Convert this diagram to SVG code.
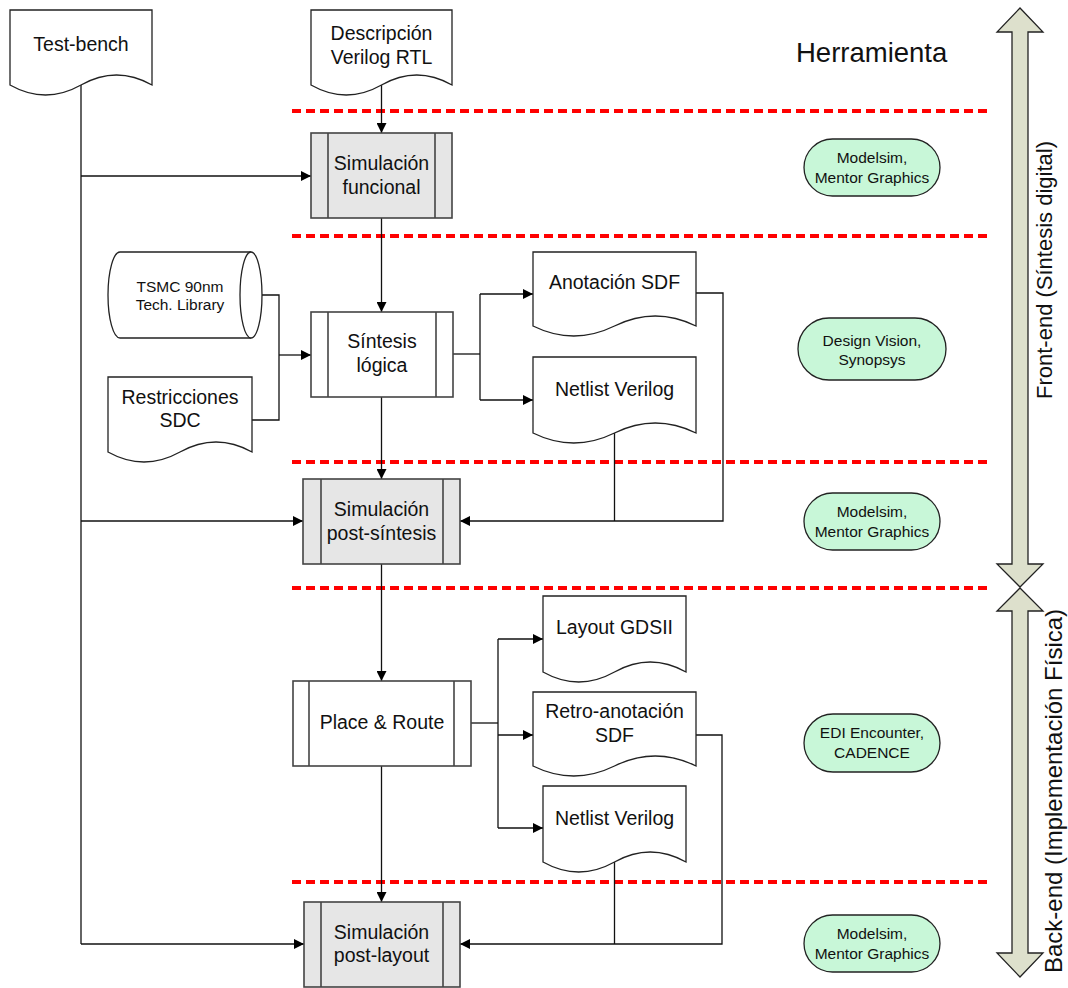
<svg xmlns="http://www.w3.org/2000/svg" width="1068" height="988" viewBox="0 0 1068 988">
  <style>
    .doc { fill: #ffffff; stroke: #222; stroke-width: 1.3; }
    .proc { fill: #ffffff; stroke: #444; stroke-width: 1.6; }
    .sim { fill: #e6e6e6; stroke: #444; stroke-width: 1.6; }
    .bar { fill: none; stroke: #444; stroke-width: 1.6; }
    .tool { fill: #c8f7d8; stroke: #222; stroke-width: 1.3; }
    .wire { fill: none; stroke: #111; stroke-width: 1.3; }
    .stage { fill: none; stroke: #ff0000; stroke-width: 4; stroke-dasharray: 9 5; }
    .band { fill: #dde0cc; stroke: #222; stroke-width: 1.3; }
    text { font-family: "Liberation Sans", Arial, sans-serif; fill: #111; text-anchor: middle; }
    .t { font-size: 19.5px; }
    .s { font-size: 15.5px; }
    .h { font-size: 27.5px; text-anchor: start; }
    .v { font-size: 22px; }
    .vb { font-size: 24px; }
  </style>
  <defs>
    <marker id="arrow" viewBox="0 0 10 10" refX="10" refY="5" markerWidth="10" markerHeight="10" markerUnits="userSpaceOnUse" orient="auto">
      <path d="M0,0 L10,5 L0,10 Z" fill="#000"/>
    </marker>
  </defs>

  <rect width="1068" height="988" fill="#ffffff"/>

  <!-- stage separators -->
  <g id="stages">
    <line class="stage" x1="292" y1="111" x2="988" y2="111"/>
    <line class="stage" x1="292" y1="236" x2="988" y2="236"/>
    <line class="stage" x1="292" y1="462" x2="988" y2="462"/>
    <line class="stage" x1="292" y1="588" x2="988" y2="588"/>
    <line class="stage" x1="292" y1="882" x2="988" y2="882"/>
  </g>

  <!-- connectors -->
  <g id="connectors">
    <!-- test-bench feed -->
    <path class="wire" d="M81,85 V944"/>
    <path class="wire" d="M81,176 H311" marker-end="url(#arrow)"/>
    <path class="wire" d="M81,521 H303" marker-end="url(#arrow)"/>
    <path class="wire" d="M81,944 H304" marker-end="url(#arrow)"/>
    <!-- main flow -->
    <path class="wire" d="M381.5,85 V133" marker-end="url(#arrow)"/>
    <path class="wire" d="M381.5,218 V312" marker-end="url(#arrow)"/>
    <path class="wire" d="M381.5,397 V479" marker-end="url(#arrow)"/>
    <path class="wire" d="M381.5,564 V681" marker-end="url(#arrow)"/>
    <path class="wire" d="M381.5,766 V902" marker-end="url(#arrow)"/>
    <!-- library and constraints into synthesis -->
    <path class="wire" d="M262,295 H279 V420 H252"/>
    <path class="wire" d="M279,355 H311" marker-end="url(#arrow)"/>
    <!-- synthesis outputs -->
    <path class="wire" d="M453,354 H480"/>
    <path class="wire" d="M480,294 V400"/>
    <path class="wire" d="M480,294 H533" marker-end="url(#arrow)"/>
    <path class="wire" d="M480,400 H533" marker-end="url(#arrow)"/>
    <!-- back to post-synthesis simulation -->
    <path class="wire" d="M696,293 H723 V521 H460" marker-end="url(#arrow)"/>
    <path class="wire" d="M614.5,433 V521"/>
    <!-- place & route outputs -->
    <path class="wire" d="M471,723 H498"/>
    <path class="wire" d="M498,639 V828"/>
    <path class="wire" d="M498,639 H543" marker-end="url(#arrow)"/>
    <path class="wire" d="M498,735 H533" marker-end="url(#arrow)"/>
    <path class="wire" d="M498,828 H543" marker-end="url(#arrow)"/>
    <!-- back to post-layout simulation -->
    <path class="wire" d="M696,735 H722 V944 H460" marker-end="url(#arrow)"/>
    <path class="wire" d="M614.5,862 V944"/>
  </g>

  <!-- inputs -->
  <g id="testbench">
    <path class="doc" d="M10,10 H152 V85 Q116.5,65 81,85 T10,85 Z"/>
    <text class="t" x="81" y="51">Test-bench</text>
  </g>
  <g id="rtl">
    <path class="doc" d="M311,10 H452 V85 Q416.75,65 381.5,85 T311,85 Z"/>
    <text class="t" x="381.5" y="40">Descripción</text>
    <text class="t" x="381.5" y="64">Verilog RTL</text>
  </g>
  <g id="techlib">
    <path class="doc" d="M120,252 H251 A11,43 0 0 1 251,338 H120 A12,43 0 0 1 120,252 Z"/>
    <path class="doc" d="M251,252 A11,43 0 0 0 251,338" fill="none"/>
    <text class="s" x="180" y="292">TSMC 90nm</text>
    <text class="s" x="180" y="310">Tech. Library</text>
  </g>
  <g id="sdc">
    <path class="doc" d="M108,377 H252 V452 Q216,432 180,452 T108,452 Z"/>
    <text class="t" x="180" y="404">Restricciones</text>
    <text class="t" x="180" y="427">SDC</text>
  </g>

  <!-- functional simulation -->
  <g id="sim-funcional">
    <rect class="sim" x="311" y="133" width="141" height="85"/>
    <line class="bar" x1="328" y1="133" x2="328" y2="218"/>
    <line class="bar" x1="435" y1="133" x2="435" y2="218"/>
    <text class="t" x="381.5" y="170">Simulación</text>
    <text class="t" x="381.5" y="194">funcional</text>
  </g>

  <!-- logic synthesis -->
  <g id="sintesis">
    <rect class="proc" x="311" y="312" width="142" height="85"/>
    <line class="bar" x1="328" y1="312" x2="328" y2="397"/>
    <line class="bar" x1="436" y1="312" x2="436" y2="397"/>
    <text class="t" x="382" y="348">Síntesis</text>
    <text class="t" x="382" y="372">lógica</text>
  </g>
  <g id="anotacion-sdf">
    <path class="doc" d="M533,252 H696 V326 Q655.25,306 614.5,326 T533,326 Z"/>
    <text class="t" x="614.5" y="289">Anotación SDF</text>
  </g>
  <g id="netlist-sintesis">
    <path class="doc" d="M533,357 H696 V433 Q655.25,413 614.5,433 T533,433 Z"/>
    <text class="t" x="614.5" y="396">Netlist Verilog</text>
  </g>

  <!-- post-synthesis simulation -->
  <g id="sim-post-sintesis">
    <rect class="sim" x="303" y="479" width="157" height="85"/>
    <line class="bar" x1="321" y1="479" x2="321" y2="564"/>
    <line class="bar" x1="443" y1="479" x2="443" y2="564"/>
    <text class="t" x="381.5" y="516">Simulación</text>
    <text class="t" x="381.5" y="540">post-síntesis</text>
  </g>

  <!-- place & route -->
  <g id="place-route">
    <rect class="proc" x="293" y="681" width="178" height="85"/>
    <line class="bar" x1="309" y1="681" x2="309" y2="766"/>
    <line class="bar" x1="454" y1="681" x2="454" y2="766"/>
    <text class="t" x="382" y="729">Place &amp; Route</text>
  </g>
  <g id="layout-gdsii">
    <path class="doc" d="M543,596 H686 V672 Q650.25,652 614.5,672 T543,672 Z"/>
    <text class="t" x="614.5" y="634">Layout GDSII</text>
  </g>
  <g id="retro-sdf">
    <path class="doc" d="M533,692 H696 V766 Q655.25,746 614.5,766 T533,766 Z"/>
    <text class="t" x="614.5" y="718">Retro-anotación</text>
    <text class="t" x="614.5" y="742">SDF</text>
  </g>
  <g id="netlist-layout">
    <path class="doc" d="M543,786 H686 V862 Q650.25,842 614.5,862 T543,862 Z"/>
    <text class="t" x="614.5" y="825">Netlist Verilog</text>
  </g>

  <!-- post-layout simulation -->
  <g id="sim-post-layout">
    <rect class="sim" x="304" y="902" width="156" height="85"/>
    <line class="bar" x1="321" y1="902" x2="321" y2="987"/>
    <line class="bar" x1="443" y1="902" x2="443" y2="987"/>
    <text class="t" x="381.5" y="939">Simulación</text>
    <text class="t" x="381.5" y="962">post-layout</text>
  </g>

  <!-- tools column -->
  <text class="h" x="796" y="62">Herramienta</text>
  <g id="tool-modelsim-1">
    <rect class="tool" x="804" y="139" width="136" height="57" rx="28.5"/>
    <text class="s" x="872" y="163">Modelsim,</text>
    <text class="s" x="872" y="183">Mentor Graphics</text>
  </g>
  <g id="tool-design-vision">
    <rect class="tool" x="798" y="318" width="148" height="62" rx="31"/>
    <text class="s" x="872" y="346">Design Vision,</text>
    <text class="s" x="872" y="365">Synopsys</text>
  </g>
  <g id="tool-modelsim-2">
    <rect class="tool" x="804" y="493" width="136" height="57" rx="28.5"/>
    <text class="s" x="872" y="517">Modelsim,</text>
    <text class="s" x="872" y="537">Mentor Graphics</text>
  </g>
  <g id="tool-edi">
    <rect class="tool" x="804" y="714" width="136" height="58" rx="29"/>
    <text class="s" x="872" y="738">EDI Encounter,</text>
    <text class="s" x="872" y="758">CADENCE</text>
  </g>
  <g id="tool-modelsim-3">
    <rect class="tool" x="804" y="915" width="136" height="57" rx="28.5"/>
    <text class="s" x="872" y="939">Modelsim,</text>
    <text class="s" x="872" y="959">Mentor Graphics</text>
  </g>

  <!-- flow phase bands -->
  <g id="front-end">
    <polygon class="band" points="1020,8 1043,32 1028,32 1028,564 1043,564 1020,587 997,564 1012,564 1012,32 997,32"/>
    <text class="v" transform="translate(1052,270) rotate(-90)">Front-end (Síntesis digital)</text>
  </g>
  <g id="back-end">
    <polygon class="band" points="1020,588 1043,611 1028,611 1028,953 1043,953 1020,977 997,953 1012,953 1012,611 997,611"/>
    <text class="vb" transform="translate(1062,791) rotate(-90)">Back-end (Implementación Física)</text>
  </g>
</svg>
